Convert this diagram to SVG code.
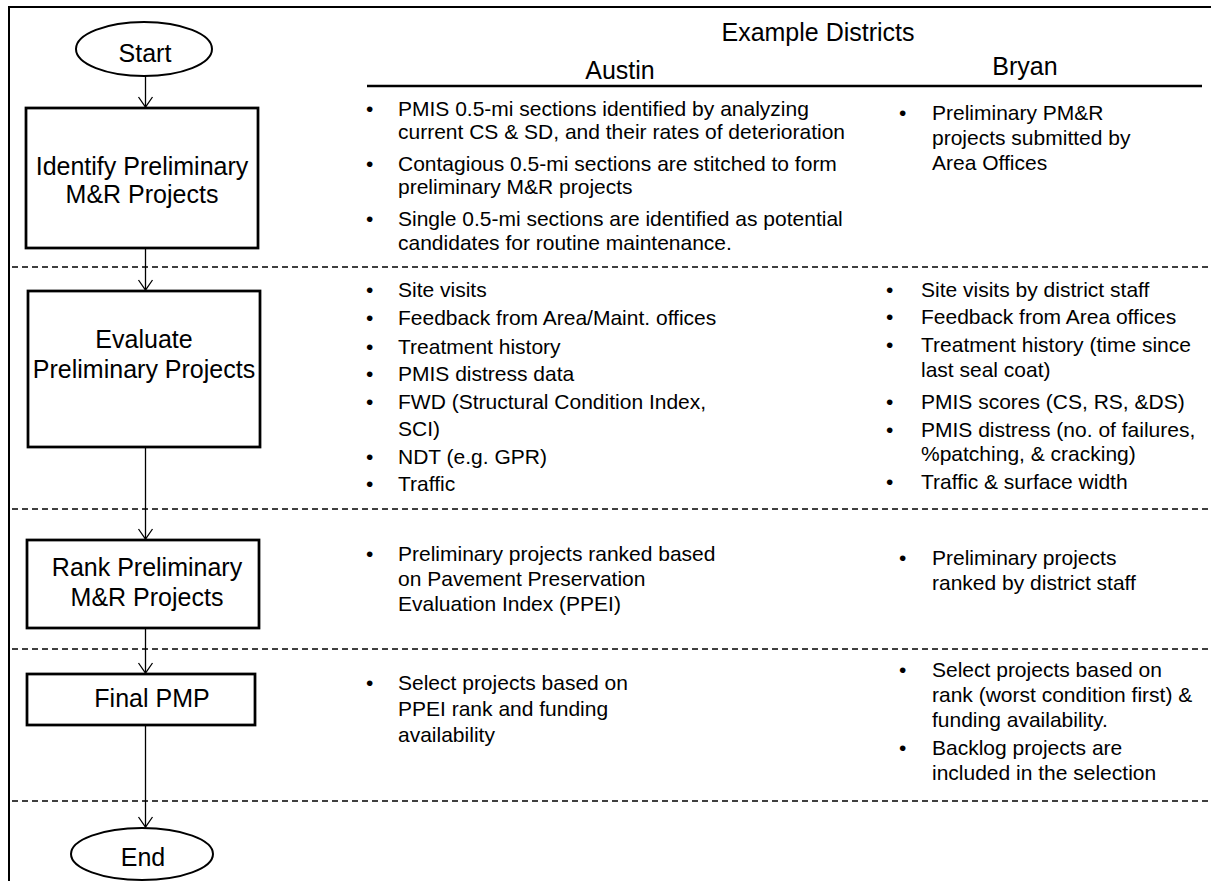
<svg xmlns="http://www.w3.org/2000/svg" width="1211" height="881" viewBox="0 0 1211 881">
<style>
text{font-family:"Liberation Sans",Arial,sans-serif;fill:#000}
.n{font-size:25px;text-anchor:middle}
.h{font-size:25px;text-anchor:middle}
.b{font-size:21px}
.box{fill:#fff;stroke:#000;stroke-width:2.75}
.ell{fill:#fff;stroke:#000;stroke-width:2}
.dash{stroke:#000;stroke-width:1.3;stroke-dasharray:6 4;fill:none}
.frame{stroke:#000;stroke-width:2;fill:none}
.conn{stroke:#000;stroke-width:1.3;fill:none;marker-end:url(#arr)}
</style>
<defs>
<marker id="arr" markerUnits="userSpaceOnUse" orient="auto" markerWidth="20" markerHeight="20" refX="0" refY="0" viewBox="-12 -10 14 20" overflow="visible">
<path d="M-10,-7 L0,0 L-10,7" fill="none" stroke="#000" stroke-width="1.3"/>
</marker>
</defs>
<rect width="1211" height="881" fill="#fff"/>
<g id="frame">
<path class="frame" d="M9,881 V7 H1211"/>
<line class="dash" x1="12" y1="267" x2="1211" y2="267"/>
<line class="dash" x1="12" y1="509" x2="1211" y2="509"/>
<line class="dash" x1="12" y1="649" x2="1211" y2="649"/>
<line class="dash" x1="12" y1="801" x2="1211" y2="801"/>
</g>
<g id="header">
<text class="h" x="818" y="41">Example Districts</text>
<text class="h" x="620" y="79">Austin</text>
<text class="h" x="1025" y="75">Bryan</text>
<line x1="367" y1="86" x2="1202" y2="86" stroke="#000" stroke-width="2.5"/>
</g>
<g id="connectors">
<line class="conn" x1="145.5" y1="76" x2="145.5" y2="107"/>
<line class="conn" x1="145.5" y1="248" x2="145.5" y2="290"/>
<line class="conn" x1="145.5" y1="447" x2="145.5" y2="539"/>
<line class="conn" x1="145.5" y1="628" x2="145.5" y2="673"/>
<line class="conn" x1="145.5" y1="725" x2="145.5" y2="827"/>
</g>
<g id="start">
<ellipse class="ell" cx="144" cy="49" rx="68" ry="27"/>
<text class="n" x="145" y="62">Start</text>
</g>
<g id="identify">
<rect class="box" x="26" y="108" width="232" height="140"/>
<text class="n" x="142" y="175">Identify Preliminary</text>
<text class="n" x="142" y="203">M&amp;R Projects</text>
</g>
<g id="evaluate">
<rect class="box" x="28" y="291" width="232" height="156"/>
<text class="n" x="144" y="348">Evaluate</text>
<text class="n" x="144" y="378">Preliminary Projects</text>
</g>
<g id="rank">
<rect class="box" x="27" y="540" width="232" height="88"/>
<text class="n" x="147" y="576">Rank Preliminary</text>
<text class="n" x="147" y="606">M&amp;R Projects</text>
</g>
<g id="final">
<rect class="box" x="27" y="674" width="228" height="51"/>
<text class="n" x="152" y="707">Final PMP</text>
</g>
<g id="end">
<ellipse class="ell" cx="142" cy="854" rx="71" ry="26"/>
<text class="n" x="143" y="866">End</text>
</g>
<g id="austin-identify">
<text class="b" x="366" y="116">•</text><text class="b" x="398" y="116">PMIS 0.5-mi sections identified by analyzing</text>
<text class="b" x="398" y="139">current CS &amp; SD, and their rates of deterioration</text>
<text class="b" x="366" y="171">•</text><text class="b" x="398" y="171">Contagious 0.5-mi sections are stitched to form</text>
<text class="b" x="398" y="194">preliminary M&amp;R projects</text>
<text class="b" x="366" y="226">•</text><text class="b" x="398" y="226">Single 0.5-mi sections are identified as potential</text>
<text class="b" x="398" y="250">candidates for routine maintenance.</text>
</g>
<g id="bryan-identify">
<text class="b" x="899" y="120">•</text><text class="b" x="932" y="120">Preliminary PM&amp;R</text>
<text class="b" x="932" y="145">projects submitted by</text>
<text class="b" x="932" y="170">Area Offices</text>
</g>
<g id="austin-evaluate">
<text class="b" x="366" y="297">•</text><text class="b" x="398" y="297">Site visits</text>
<text class="b" x="366" y="325">•</text><text class="b" x="398" y="325">Feedback from Area/Maint. offices</text>
<text class="b" x="366" y="354">•</text><text class="b" x="398" y="354">Treatment history</text>
<text class="b" x="366" y="381">•</text><text class="b" x="398" y="381">PMIS distress data</text>
<text class="b" x="366" y="409">•</text><text class="b" x="398" y="409">FWD (Structural Condition Index,</text>
<text class="b" x="398" y="436">SCI)</text>
<text class="b" x="366" y="464">•</text><text class="b" x="398" y="464">NDT (e.g. GPR)</text>
<text class="b" x="366" y="491">•</text><text class="b" x="398" y="491">Traffic</text>
</g>
<g id="bryan-evaluate">
<text class="b" x="886" y="297">•</text><text class="b" x="921" y="297">Site visits by district staff</text>
<text class="b" x="886" y="324">•</text><text class="b" x="921" y="324">Feedback from Area offices</text>
<text class="b" x="886" y="352">•</text><text class="b" x="921" y="352">Treatment history (time since</text>
<text class="b" x="921" y="377">last seal coat)</text>
<text class="b" x="886" y="409">•</text><text class="b" x="921" y="409">PMIS scores (CS, RS, &amp;DS)</text>
<text class="b" x="886" y="437">•</text><text class="b" x="921" y="437">PMIS distress (no. of failures,</text>
<text class="b" x="921" y="461">%patching, &amp; cracking)</text>
<text class="b" x="886" y="489">•</text><text class="b" x="921" y="489">Traffic &amp; surface width</text>
</g>
<g id="austin-rank">
<text class="b" x="366" y="561">•</text><text class="b" x="398" y="561">Preliminary projects ranked based</text>
<text class="b" x="398" y="586">on Pavement Preservation</text>
<text class="b" x="398" y="611">Evaluation Index (PPEI)</text>
</g>
<g id="bryan-rank">
<text class="b" x="899" y="565">•</text><text class="b" x="932" y="565">Preliminary projects</text>
<text class="b" x="932" y="590">ranked by district staff</text>
</g>
<g id="austin-final">
<text class="b" x="366" y="690">•</text><text class="b" x="398" y="690">Select projects based on</text>
<text class="b" x="398" y="716">PPEI rank and funding</text>
<text class="b" x="398" y="742">availability</text>
</g>
<g id="bryan-final">
<text class="b" x="899" y="677">•</text><text class="b" x="932" y="677">Select projects based on</text>
<text class="b" x="932" y="702">rank (worst condition first) &amp;</text>
<text class="b" x="932" y="727">funding availability.</text>
<text class="b" x="899" y="755">•</text><text class="b" x="932" y="755">Backlog projects are</text>
<text class="b" x="932" y="780">included in the selection</text>
</g>
</svg>
